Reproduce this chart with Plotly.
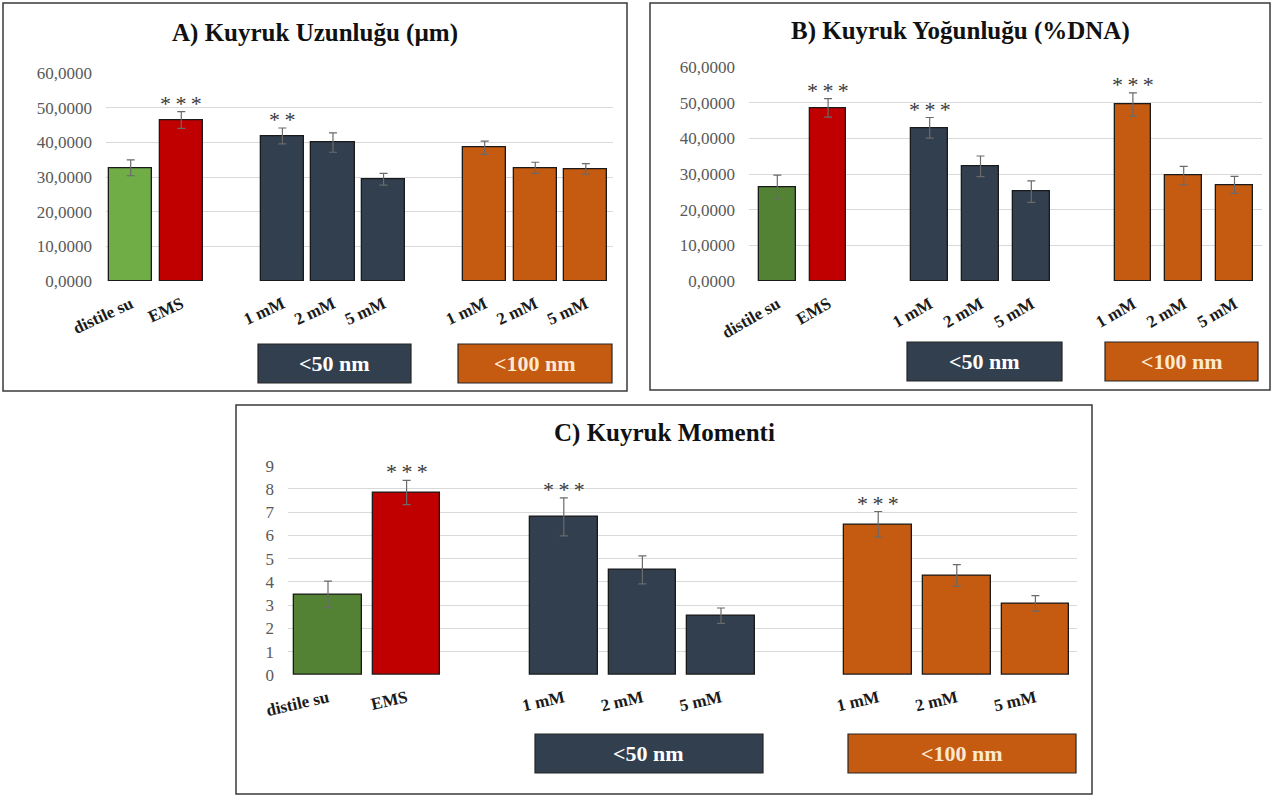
import plotly.graph_objects as go

W, H = 1274, 796

categories = ["distile su", "EMS", "1 mM", "2 mM", "5 mM", "1 mM", "2 mM", "5 mM"]
slot_pos = [0, 1, 3, 4, 5, 7, 8, 9]

A_vals = [32.7, 46.5, 41.9, 40.0, 29.4, 38.5, 32.7, 32.4]
A_err = [2.3, 2.4, 2.3, 2.8, 1.7, 1.9, 1.6, 1.5]
A_stars = ["", "***", "**", "", "", "", "", ""]

B_vals = [26.4, 48.6, 43.0, 32.2, 25.1, 49.5, 29.6, 27.0]
B_err = [3.3, 2.6, 2.9, 2.9, 3.0, 3.3, 2.6, 2.4]
B_stars = ["", "***", "***", "", "", "***", "", ""]

C_vals = [3.47, 7.85, 6.8, 4.52, 2.55, 6.48, 4.28, 3.08]
C_err = [0.57, 0.52, 0.82, 0.6, 0.33, 0.55, 0.47, 0.33]
C_stars = ["", "***", "***", "", "", "***", "", ""]

AB_ticks = [0, 10, 20, 30, 40, 50, 60]
AB_ticktext = ["0,0000", "10,0000", "20,0000", "30,0000", "40,0000", "50,0000", "60,0000"]
C_ticks = [0, 1, 2, 3, 4, 5, 6, 7, 8, 9]
C_ticktext = ["0", "1", "2", "3", "4", "5", "6", "7", "8", "9"]

titles = ["A) Kuyruk Uzunluğu (µm)", "B) Kuyruk Yoğunluğu (%DNA)", "C) Kuyruk Momenti"]
group_labels = ["<50 nm", "<100 nm"]

NAVY = "#323F4F"
ORANGE = "#C55A11"
RED = "#C00000"
colors_A = ["#70AD47", RED, NAVY, NAVY, NAVY, ORANGE, ORANGE, ORANGE]
colors_BC = ["#548235", RED, NAVY, NAVY, NAVY, ORANGE, ORANGE, ORANGE]

SERIF = "Liberation Serif"


def px(x):
    return x / W


def py(y):
    return 1 - y / H


panels = [
    dict(vals=A_vals, err=A_err, stars=A_stars, colors=colors_A, c0=130.7, s=50.57,
         gl=106, gr=613, ytop=73.3, ybot=281, yr=[0, 60], ticks=AB_ticks, tt=AB_ticktext, bw=0.856,
         border=(3, 3, 627, 391), title=titles[0], tx=315, ty=33, tangle=-25,
         boxes=[(258, 344, 411, 383), (458, 344, 612, 383)]),
    dict(vals=B_vals, err=B_err, stars=B_stars, colors=colors_BC, c0=777.3, s=50.8,
         gl=749, gr=1262, ytop=67.3, ybot=281, yr=[0, 60], ticks=AB_ticks, tt=AB_ticktext, bw=0.72,
         border=(650, 3, 1270, 390), title=titles[1], tx=960, ty=31, tangle=-30,
         boxes=[(907, 342, 1062, 381), (1105, 342, 1258, 381)]),
    dict(vals=C_vals, err=C_err, stars=C_stars, colors=colors_BC, c0=328, s=78.6,
         gl=288, gr=1077, ytop=465.7, ybot=675, yr=[0, 9], ticks=C_ticks, tt=C_ticktext, bw=0.86,
         border=(236, 405, 1092, 794), title=titles[2], tx=664, ty=433, tangle=-13,
         boxes=[(535, 734, 763, 773), (848, 734, 1076, 773)]),
]

fig = go.Figure()
shapes = []
annotations = []
layout_axes = {}

for i, p in enumerate(panels):
    n = "" if i == 0 else str(i + 1)
    xa, ya = "x" + n, "y" + n
    fig.add_trace(go.Bar(
        x=slot_pos, y=p["vals"], width=p["bw"],
        marker=dict(color=p["colors"], line=dict(color="#1a1a1a", width=1.3)),
        error_y=dict(type="data", array=p["err"], visible=True,
                     color="#6a6a6a", thickness=1.2, width=4),
        xaxis=xa, yaxis=ya, showlegend=False, hoverinfo="y",
    ))
    xr = [(p["gl"] - p["c0"]) / p["s"], (p["gr"] - p["c0"]) / p["s"]]
    layout_axes["xaxis" + n] = dict(
        domain=[px(p["gl"]), px(p["gr"])], range=xr, anchor=ya,
        tickvals=slot_pos, ticktext=["<b>" + c + "</b>" for c in categories],
        tickangle=p["tangle"], ticklabelstandoff=9,
        tickfont=dict(family=SERIF, size=17, color="#1a1a1a"),
        showgrid=False, zeroline=False, showline=False, ticks="", fixedrange=True,
        automargin=False,
    )
    layout_axes["yaxis" + n] = dict(
        domain=[py(p["ybot"]), py(p["ytop"])], range=p["yr"], anchor=xa,
        tickvals=p["ticks"], ticktext=p["tt"], ticklabelstandoff=13,
        tickfont=dict(family=SERIF, size=17, color="#595959"),
        showgrid=True, gridcolor="#D9D9D9", gridwidth=1.3, zeroline=False,
        showline=False, ticks="", fixedrange=True, automargin=False,
    )
    # significance stars
    for xv, v, e, st in zip(slot_pos, p["vals"], p["err"], p["stars"]):
        if st:
            annotations.append(dict(
                x=xv, y=v + e, xref=xa, yref=ya, text="\u2009".join(st), showarrow=False,
                yanchor="bottom", yshift=-6,
                font=dict(family=SERIF, size=22, color="#3a3a3a"),
            ))
    # panel border
    bx0, by0, bx1, by1 = p["border"]
    shapes.append(dict(type="rect", xref="paper", yref="paper",
                       x0=px(bx0), x1=px(bx1), y0=py(by1), y1=py(by0),
                       line=dict(color="#3a3a3a", width=1.5), fillcolor="rgba(0,0,0,0)"))
    # title
    annotations.append(dict(
        x=px(p["tx"]), y=py(p["ty"]), xref="paper", yref="paper", text="<b>" + p["title"] + "</b>",
        showarrow=False, xanchor="center", yanchor="middle",
        font=dict(family=SERIF, size=25, color="#111111"),
    ))
    # group boxes
    for (gx0, gy0, gx1, gy1), lab, col, tcol in zip(
            p["boxes"], group_labels, [NAVY, ORANGE], ["#FFFFFF", "#FCE9D2"]):
        shapes.append(dict(type="rect", xref="paper", yref="paper",
                           x0=px(gx0), x1=px(gx1), y0=py(gy1), y1=py(gy0),
                           line=dict(color="#262626", width=1.2), fillcolor=col))
        annotations.append(dict(
            x=px((gx0 + gx1) / 2), y=py((gy0 + gy1) / 2), xref="paper", yref="paper",
            text="<b>" + lab + "</b>", showarrow=False, xanchor="center", yanchor="middle",
            font=dict(family=SERIF, size=22, color=tcol),
        ))

fig.update_layout(
    width=W, height=H, margin=dict(l=0, r=0, t=0, b=0, autoexpand=False),
    paper_bgcolor="white", plot_bgcolor="white",
    shapes=shapes, annotations=annotations, bargap=0,
    **layout_axes,
)

fig.write_html("out.html", include_plotlyjs=True, config={"displayModeBar": False})
